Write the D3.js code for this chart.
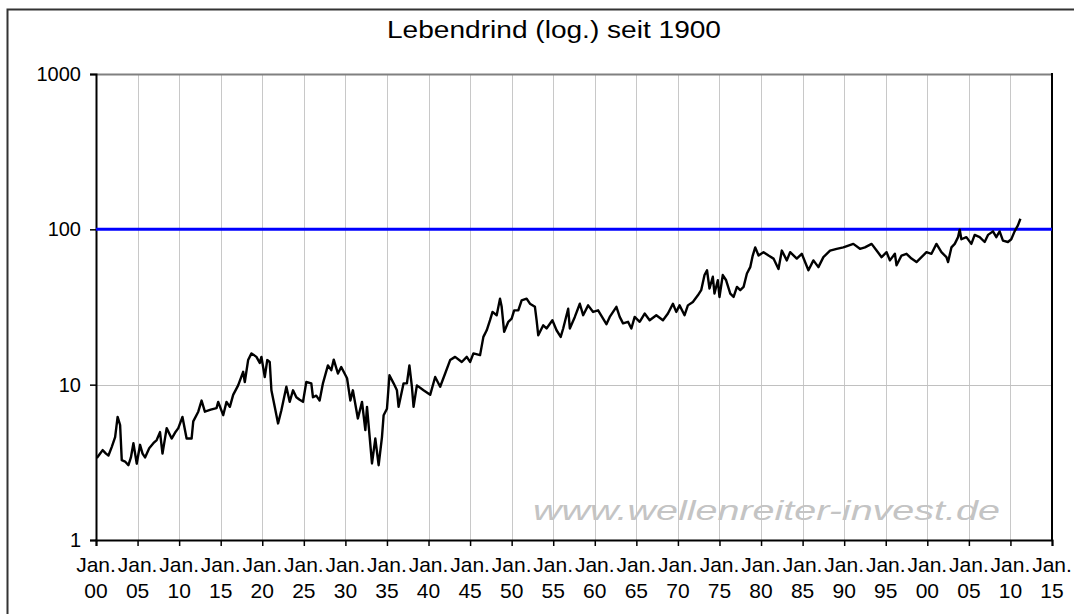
<!DOCTYPE html>
<html>
<head>
<meta charset="utf-8">
<script src="https://cdn.jsdelivr.net/npm/d3@7"></script>
<style>
    body { margin: 0; background: #fff; }
    text { font-family: "Liberation Sans", Arial, sans-serif; }
</style>
</head>
<body>
<svg id="chart"></svg>
<script>
'use strict'

// Lebendrind, Jahr (dezimal) und Preis
var years = [1900.1, 1900.5, 1900.8, 1901.2, 1901.5, 1901.9, 1902.3, 1902.6, 1902.9, 1903.1, 1903.5, 1903.9,
    1904.2, 1904.5, 1904.9, 1905.3, 1905.6, 1905.9, 1906.4, 1906.9, 1907.3, 1907.7, 1908.0, 1908.5,
    1909.1, 1909.5, 1909.9, 1910.4, 1910.9, 1911.5, 1911.7, 1912.3, 1912.7, 1913.1, 1913.8, 1914.5,
    1914.7, 1915.3, 1915.7, 1916.1, 1916.5, 1917.1, 1917.7, 1917.9, 1918.3, 1918.7, 1919.3, 1919.7,
    1919.9, 1920.3, 1920.6, 1920.9, 1921.1, 1921.5, 1921.9, 1922.3, 1922.9, 1923.3, 1923.7, 1924.1,
    1924.5, 1924.9, 1925.3, 1925.9, 1926.1, 1926.5, 1926.9, 1927.3, 1927.9, 1928.3, 1928.6, 1929.1,
    1929.5, 1930.2, 1930.6, 1930.9, 1931.5, 1932.0, 1932.4, 1932.6, 1933.2, 1933.6, 1934.0, 1934.4,
    1934.6, 1935.0, 1935.3, 1935.8, 1936.2, 1936.4, 1937.0, 1937.4, 1937.7, 1938.0, 1938.2, 1938.6,
    1939.4, 1940.2, 1940.8, 1941.4, 1942.0, 1942.6, 1943.2, 1944.0, 1944.6, 1945.0, 1945.4, 1946.2,
    1946.6, 1947.0, 1947.4, 1947.7, 1948.2, 1948.6, 1948.8, 1949.1, 1949.6, 1950.0, 1950.3, 1950.8,
    1951.2, 1951.8, 1952.2, 1952.8, 1953.0, 1953.2, 1953.8, 1954.2, 1954.9, 1955.4, 1955.9, 1956.2,
    1956.8, 1957.0, 1957.6, 1958.2, 1958.6, 1959.2, 1959.8, 1960.4, 1961.0, 1961.4, 1961.8, 1962.2,
    1962.6, 1963.0, 1963.4, 1964.0, 1964.4, 1964.8, 1965.4, 1966.0, 1966.6, 1967.4, 1968.2, 1968.8,
    1969.4, 1969.8, 1970.2, 1970.8, 1971.2, 1971.8, 1972.4, 1972.8, 1973.2, 1973.5, 1973.8, 1974.2,
    1974.4, 1974.8, 1975.0, 1975.4, 1975.8, 1976.3, 1976.7, 1977.1, 1977.5, 1977.9, 1978.3, 1978.7,
    1979.0, 1979.3, 1979.7, 1980.3, 1980.9, 1981.5, 1982.1, 1982.5, 1983.1, 1983.5, 1984.3, 1984.9,
    1985.7, 1986.3, 1986.9, 1987.5, 1988.3, 1989.1, 1989.9, 1990.5, 1991.1, 1991.9, 1992.5, 1993.3,
    1993.9, 1994.5, 1995.1, 1995.5, 1996.1, 1996.3, 1996.9, 1997.5, 1998.1, 1998.7, 1999.3, 1999.9,
    2000.5, 2001.1, 2001.7, 2002.3, 2002.5, 2002.9, 2003.3, 2003.7, 2003.9, 2004.1, 2004.7, 2005.3,
    2005.7, 2006.3, 2006.9, 2007.3, 2007.9, 2008.3, 2008.7, 2009.1, 2009.7, 2010.1, 2010.5, 2010.9,
    2011.2];

var prices = [3.37, 3.6, 3.79, 3.6, 3.5, 3.98, 4.6, 6.2, 5.5, 3.27, 3.2, 3.03,
    3.4, 4.2, 3.1, 4.1, 3.6, 3.4, 3.9, 4.2, 4.4, 4.95, 3.6, 5.25,
    4.5, 4.9, 5.25, 6.2, 4.5, 4.5, 5.8, 6.7, 7.9, 6.7, 6.9, 7.06,
    7.75, 6.36, 7.75, 7.2, 8.6, 9.9, 12.1, 10.4, 14.4, 15.9, 15.1, 13.8,
    15.1, 11.2, 14.4, 14.0, 9.2, 7.2, 5.63, 6.85, 9.7, 7.75, 9.2, 8.3,
    8.0, 7.75, 10.4, 10.2, 8.3, 8.5, 7.9, 10.2, 13.3, 12.4, 14.5, 11.8,
    13.0, 11.0, 7.9, 9.2, 6.06, 7.75, 5.1, 7.2, 3.11, 4.5, 3.03, 4.6,
    6.36, 7.0, 11.5, 10.2, 9.2, 7.2, 10.2, 10.2, 13.3, 9.7, 7.2, 9.9,
    9.2, 8.6, 11.2, 9.7, 11.8, 14.4, 15.1, 14.0, 15.1, 14.0, 15.9, 15.5,
    20.3, 22.4, 26.0, 29.4, 28.0, 35.8, 31.7, 21.9, 25.4, 26.6, 30.1, 30.1,
    34.9, 35.8, 33.2, 31.7, 26.0, 20.8, 24.1, 23.0, 26.0, 22.4, 20.3, 23.0,
    30.8, 23.0, 27.3, 33.2, 28.0, 32.4, 29.4, 30.1, 26.6, 24.5, 27.3, 29.4,
    31.7, 27.3, 24.8, 25.4, 23.0, 27.3, 25.4, 28.7, 26.0, 28.0, 26.0, 28.7,
    33.2, 29.4, 32.4, 28.0, 32.4, 34.1, 37.6, 40.6, 50.8, 54.5, 41.6, 49.5,
    38.6, 47.0, 36.7, 50.8, 47.0, 38.6, 36.7, 42.6, 40.6, 42.6, 52.0, 57.1,
    67.8, 76.5, 67.8, 71.3, 67.8, 64.8, 55.6, 73.0, 63.1, 71.3, 64.8, 69.6,
    54.5, 63.1, 57.1, 66.2, 73.0, 74.9, 76.5, 78.6, 80.6, 74.9, 76.5, 80.6,
    73.0, 66.2, 71.3, 63.1, 69.6, 58.7, 67.8, 69.6, 64.8, 61.6, 66.2, 71.3,
    69.6, 80.6, 71.3, 66.2, 61.6, 76.5, 80.6, 89.1, 99.6, 86.3, 89.1, 80.6,
    92.1, 89.1, 82.9, 92.1, 97.0, 89.1, 97.0, 84.7, 82.9, 86.3, 97.0, 106,
    117];

var tickYears = d3.range(1900, 2016, 5);
var yTicks = [1, 10, 100, 1000];
var refLevel = 100;
var title = "Lebendrind (log.) seit 1900";
var watermark = "www.wellenreiter-invest.de";

var width = 1074,
    height = 614,
    margin = { top: 74, right: 22, bottom: 74, left: 96 };

var svg = d3.select("#chart")
    .attr("width", width)
    .attr("height", height);

// aeusserer Rahmen (rechts/unten abgeschnitten)
svg.append("rect")
    .attr("x", 7.5).attr("y", 9.5)
    .attr("width", width + 20).attr("height", height + 20)
    .attr("fill", "#fff")
    .attr("stroke", "#333")
    .attr("stroke-width", 2);

var x = d3.scaleLinear()
    .domain([1900, 2015])
    .range([margin.left, width - margin.right]);

var y = d3.scaleLog()
    .domain([1, 1000])
    .range([height - margin.bottom, margin.top]);

svg.append("text")
    .attr("x", 387)
    .attr("y", 38)
    .attr("font-size", 23)
    .attr("textLength", 334)
    .attr("lengthAdjust", "spacingAndGlyphs")
    .text(title);

// Gitter
svg.append("g")
    .selectAll("line")
    .data(tickYears.slice(1, -1))
    .enter().append("line")
    .attr("x1", (d) => Math.round(x(d)) + 0.5)
    .attr("x2", (d) => Math.round(x(d)) + 0.5)
    .attr("y1", y(1000))
    .attr("y2", y(1))
    .attr("stroke", "#c8c8c8");

svg.append("g")
    .selectAll("line")
    .data([10, 1000])
    .enter().append("line")
    .attr("x1", x(1900))
    .attr("x2", x(2015))
    .attr("y1", (d) => Math.round(y(d)) + 0.5)
    .attr("y2", (d) => Math.round(y(d)) + 0.5)
    .attr("stroke", (d) => d === 1000 ? "#808080" : "#c0c0c0")
    .attr("stroke-width", (d) => d === 1000 ? 2 : 1);

// Watermark
svg.append("text")
    .attr("x", 533)
    .attr("y", 520)
    .attr("font-size", 28)
    .attr("font-style", "italic")
    .attr("textLength", 467)
    .attr("lengthAdjust", "spacingAndGlyphs")
    .attr("fill", "#c4c4c4")
    .text(watermark);

// rechter Rand
svg.append("line")
    .attr("x1", x(2015)).attr("x2", x(2015))
    .attr("y1", y(1000) - 1).attr("y2", y(1))
    .attr("stroke", "#000")
    .attr("stroke-width", 2);

// Achsen
var yAxis = svg.append("g")
    .attr("transform", `translate(${margin.left},0)`)
    .call(d3.axisLeft(y).tickValues(yTicks).tickFormat(d3.format("d")).tickSize(6).tickPadding(9));

var xAxis = svg.append("g")
    .attr("transform", `translate(0,${y(1)})`)
    .call(d3.axisBottom(x).tickValues(tickYears).tickFormat("").tickSize(6));

[yAxis, xAxis].forEach(function (g) {
    g.select(".domain").attr("stroke", "#000").attr("stroke-width", 2);
    g.selectAll(".tick line").attr("stroke", "#000").attr("stroke-width", 1.5);
});
yAxis.selectAll(".tick text")
    .attr("font-size", 20)
    .attr("font-family", "Liberation Sans, Arial, sans-serif")
    .attr("fill", "#000");

var xLabels = svg.append("g")
    .selectAll("g")
    .data(tickYears)
    .enter().append("g")
    .attr("transform", (d) => `translate(${x(d)},0)`);

xLabels.append("text")
    .attr("y", 572)
    .attr("text-anchor", "middle")
    .attr("font-size", 21)
    .text("Jan.");

xLabels.append("text")
    .attr("y", 598)
    .attr("text-anchor", "middle")
    .attr("font-size", 21)
    .text((d) => String(d % 100).padStart(2, "0"));

// Linie bei 100
svg.append("line")
    .attr("x1", x(1900))
    .attr("x2", x(2015))
    .attr("y1", y(refLevel))
    .attr("y2", y(refLevel))
    .attr("stroke", "#0000ff")
    .attr("stroke-width", 3);

var line = d3.line()
    .x((d, i) => x(years[i]))
    .y((d) => y(d));

svg.append("path")
    .datum(prices)
    .attr("fill", "none")
    .attr("stroke", "#000")
    .attr("stroke-width", 2.4)
    .attr("stroke-linejoin", "round")
    .attr("d", line);
</script>
</body>
</html>
